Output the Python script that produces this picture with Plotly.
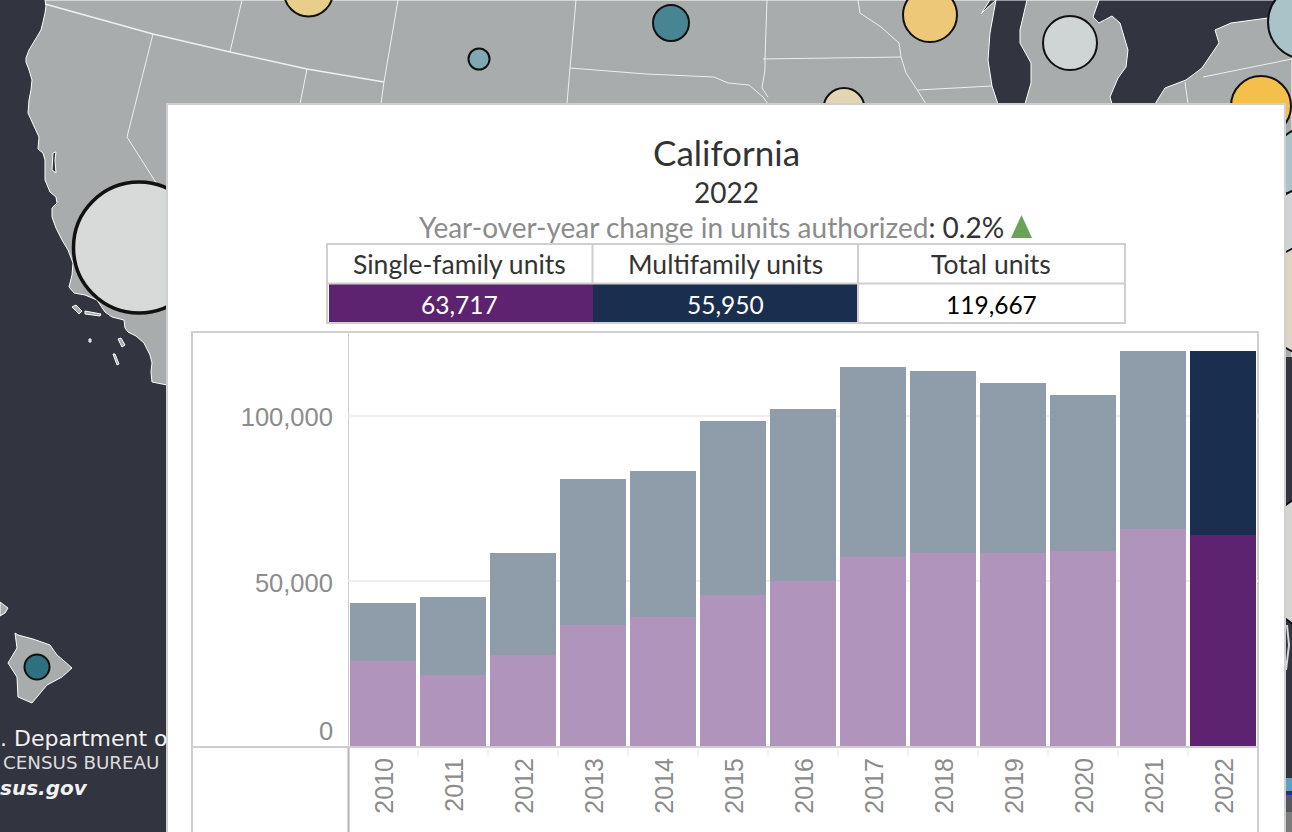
import plotly.graph_objects as go

W, H = 1292, 832

# chart values
years = [2010, 2011, 2012, 2013, 2014, 2015, 2016, 2017, 2018, 2019, 2020, 2021, 2022]
single_family = [25700, 21500, 27600, 36700, 39100, 45800, 50000, 57300, 58500, 58500, 59100, 65800, 63717]
multifamily = [17600, 23700, 30900, 44200, 44200, 52400, 52100, 57500, 55100, 51200, 47000, 53700, 55950]
y_ticks = [0, 50000, 100000]

state = "California"
year_label = "2022"
change_label = "Year-over-year change in units authorized"
change_value = "0.2%"
table_headers = ["Single-family units", "Multifamily units", "Total units"]
table_values = ["63,717", "55,950", "119,667"]
footer_lines = [".\u00a0Department\u00a0of", "CENSUS BUREAU", "sus.gov"]

# colours
DARK = "#323440"
LAND = "#a8acac"
PURPLE = "#5e2370"
NAVY = "#1a2e50"
PURPLE_LIGHT = "#b094bb"
NAVY_LIGHT = "#8f9caa"
TEXT = "#333333"
LINE = "#cfcfcf"
LINE_DARK = "#b4b4b4"
TICK = "#8c8c8c"
FONT = "Lato"
TICK_FONT = "Liberation Sans"


def px(x, y):
    return f"{x / W:.5f} {1 - y / H:.5f}"


def poly(points, closed=True):
    path = "M " + " L ".join(px(x, y) for x, y in points)
    return path + (" Z" if closed else "")


def area(points, fill, line="white", width=1):
    return dict(type="path", path=poly(points), xref="paper", yref="paper", layer="below",
                fillcolor=fill, line=dict(color=line, width=width))


def stroke(points, color="#eef0f0", width=1):
    return dict(type="path", path=poly(points, closed=False), xref="paper", yref="paper", layer="below",
                line=dict(color=color, width=width))


def rect(x0, y0, x1, y1, fill, line=None, width=0):
    return dict(type="rect", xref="paper", yref="paper", layer="below",
                x0=x0 / W, x1=x1 / W, y0=1 - y0 / H, y1=1 - y1 / H,
                fillcolor=fill, line=dict(color=line or fill, width=width))


def circle(cx, cy, r, fill, width=2):
    return dict(type="circle", xref="paper", yref="paper", layer="below",
                x0=(cx - r) / W, x1=(cx + r) / W, y0=1 - (cy - r) / H, y1=1 - (cy + r) / H,
                fillcolor=fill, line=dict(color="#111111", width=width))


def label(text, x, y, size, color=TEXT, font=FONT):
    return dict(text=text, x=x / W, y=1 - y / H, xref="paper", yref="paper", showarrow=False,
                xanchor="center", yanchor="middle", font=dict(family=font, size=size, color=color))


west_coast = [(45, 0), (46, 6), (45, 13), (43, 22), (41, 30), (35, 40), (29, 50), (26, 58), (26, 62), (29, 70),
              (32, 80), (31, 90), (29, 100), (28, 113), (33, 124), (39, 137), (38, 149), (43, 153), (45, 160),
              (45, 180), (50, 192), (56, 197), (57, 203), (52, 208), (52, 217), (56, 228), (62, 240), (68, 250),
              (73, 263), (72, 275), (69, 287), (74, 293), (85, 295), (97, 300), (105, 312), (112, 317), (124, 320),
              (125, 328), (128, 332), (136, 336), (144, 343), (150, 355), (152, 363), (151, 372), (152, 382),
              (167, 385)]
lake_michigan = [(996, 0), (990, 33), (988, 60), (992, 86), (998, 104), (1025, 104), (1031, 83), (1031, 63),
                 (1020, 43), (1020, 30), (1027, 0)]
east_lakes = [(1099, 0), (1093, 17), (1099, 23), (1112, 16), (1120, 23), (1128, 50), (1126, 67), (1118, 78),
              (1110, 97), (1112, 104), (1155, 104), (1165, 88), (1186, 80), (1202, 68), (1219, 43), (1215, 30),
              (1231, 23), (1268, 18), (1275, 0)]
big_island = [(15, 633), (18, 635), (33, 639), (50, 645), (57, 655), (63, 660), (72, 668), (62, 677), (47, 685),
              (32, 703), (18, 697), (17, 677), (8, 663), (17, 648)]

shapes = [
    rect(0, 0, W, H, DARK),
    area(west_coast + [(1292, 385), (1292, 357), (1292, 0)], LAND),
    rect(167, 357, 1292, 420, DARK),
    area(lake_michigan, DARK),
    area([(981, 14), (990, 0), (996, 0), (985, 10)], DARK),
    area(east_lakes, DARK),
    area(big_island, LAND),
    area([(0, 602), (8, 608), (5, 613), (0, 616)], LAND),
    area([(53, 153), (56, 152), (55, 160), (56, 173), (52, 170)], DARK),
    area([(72, 307), (76, 305), (82, 311), (79, 314)], LAND),
    area([(85, 311), (101, 314), (100, 316), (85, 314)], LAND),
    area([(89, 339), (91, 339), (91, 342), (89, 342)], LAND),
    area([(118, 339), (121, 338), (125, 345), (122, 347)], LAND),
    area([(113, 354), (115, 354), (119, 364), (117, 365)], LAND),
    # state lines
    stroke([(45, 4), (153, 34), (230, 52), (307, 69), (384, 82)], width=1.5),
    stroke([(153, 34), (127, 137), (167, 200)]),
    stroke([(230, 52), (242, 0)]),
    stroke([(307, 69), (300, 104)]),
    stroke([(398, 0), (384, 82), (381, 104)]),
    stroke([(576, 0), (570, 68), (567, 104)]),
    stroke([(570, 68), (646, 74), (714, 77), (728, 83), (749, 85), (763, 97), (768, 104)]),
    stroke([(767, 0), (765, 59)]),
    stroke([(763, 59), (901, 57)]),
    stroke([(765, 59), (765, 70), (762, 88), (768, 97)]),
    stroke([(858, 0), (860, 13), (881, 27), (899, 43), (901, 57), (906, 73), (916, 88), (926, 104)]),
    stroke([(918, 90), (992, 86)]),
    stroke([(1185, 82), (1188, 104)]),
    stroke([(1203, 77), (1292, 59)]),
    # bubbles
    circle(308.5, -8, 24.5, "#e9cd8b"),
    circle(479, 59, 10.5, "#7fa8b3"),
    circle(671, 23, 18, "#488593"),
    circle(930, 15, 27, "#ecc878"),
    circle(1070, 43, 27, "#cfd5d5"),
    circle(1305, 22, 37, "#a9c3c8"),
    circle(844, 108.5, 20.5, "#e3d6b2"),
    circle(1261, 106, 30, "#f5bf4d"),
    circle(1310, 164, 37.6, "#a9c3c8"),
    circle(1305, 223, 34.6, "#cfd3d5"),
    circle(1315, 300, 56, "#ddd4c4"),
    circle(1330, 562, 72, "#d4d4d0"),
    circle(139, 247.5, 65.5, "#d8dada", width=3.5),
    circle(37, 667, 12.5, "#2f707e"),
    # scraps showing at the right edge
    stroke([(1287, 625), (1289, 645), (1286, 670)], color="#d8d8d8", width=2),
    rect(1285, 778, 1292, 791, "#5f9fc4"),
    rect(1285, 793, 1292, 795, "#2424d0"),
    rect(1285, 795, 1292, 812, "#55565f"),
    rect(1285, 812, 1292, 832, "#7c7c7c"),
    # popup panel
    rect(167, 104, 1285, 840, "white", line=LINE, width=2),
    # table
    rect(329, 284, 593, 322, PURPLE),
    rect(593, 284, 858, 322, NAVY),
    rect(327, 244, 1125, 323, "rgba(0,0,0,0)", line=LINE, width=2),
    stroke([(327, 283.5), (1125, 283.5)], color=LINE, width=2),
    stroke([(592.5, 244), (592.5, 284)], color=LINE, width=2),
    stroke([(858, 244), (858, 323)], color=LINE, width=2),
    # green arrow
    area([(1021.5, 215), (1032, 238), (1011, 238)], "#6aa25a", line="#6aa25a", width=0),
    # chart frame
    stroke([(192, 840), (192, 332), (1258, 332), (1258, 840)], color=LINE, width=2),
    stroke([(348.5, 332), (348.5, 746)], color=LINE, width=1),
    stroke([(348.5, 747), (348.5, 840)], color=LINE_DARK, width=2),
    stroke([(192, 747), (1258, 747)], color=LINE, width=2),
]

# small separators under the bars, between the years
for yr in years[:-1]:
    shapes.append(dict(type="line", xref="x", yref="paper", x0=yr + 0.5, x1=yr + 0.5,
                       y0=1 - 748 / H, y1=1 - 757 / H, layer="below",
                       line=dict(color="#eeeeee", width=1.5)))

annotations = [
    label(state, 726, 152, 35),
    label(year_label, 726, 192, 28),
    label(f'<span style="color:#8c8c8c">{change_label}</span>: {change_value}', 711.5, 227, 28),
    label(table_headers[0], 459, 264, 26.5),
    label(table_headers[1], 725, 264, 26.5),
    label(table_headers[2], 991, 264, 26.5),
    label(table_values[0], 459, 304, 24.5, color="white"),
    label(table_values[1], 725, 304, 24.5, color="white"),
    label(table_values[2], 991, 304, 24.5, color="black"),
    # the zero sits above the baseline in the original
    dict(text=f"{y_ticks[0]}", x=335 / W, y=y_ticks[0], xref="paper", yref="y", yshift=15, showarrow=False,
         xanchor="right", yanchor="middle", font=dict(family=TICK_FONT, size=25.5, color=TICK)),
]

fig = go.Figure()

fig.add_trace(go.Bar(x=years, y=single_family, name="Single-family units", showlegend=False,
                     marker=dict(color=[PURPLE_LIGHT] * 12 + [PURPLE], line=dict(width=0))))
fig.add_trace(go.Bar(x=years, y=multifamily, name="Multifamily units", showlegend=False,
                     marker=dict(color=[NAVY_LIGHT] * 12 + [NAVY], line=dict(width=0))))

# footer logo text, on its own axes so that the panel edge cuts it off
fig.add_trace(go.Scatter(x=[0], y=[740], xaxis="x2", yaxis="y2", mode="text", text=[footer_lines[0]],
                         textposition="middle right", showlegend=False, hoverinfo="skip",
                         textfont=dict(family="DejaVu Sans", size=22, color="#f2f2f2")))
fig.add_trace(go.Scatter(x=[3], y=[764], xaxis="x2", yaxis="y2", mode="text", text=[footer_lines[1]],
                         textposition="middle right", showlegend=False, hoverinfo="skip",
                         textfont=dict(family="DejaVu Sans", size=18.3, color="#dddddd")))
fig.add_trace(go.Scatter(x=[0], y=[790], xaxis="x2", yaxis="y2", mode="text", text=[f"<b><i>{footer_lines[2]}</i></b>"],
                         textposition="middle right", showlegend=False, hoverinfo="skip",
                         textfont=dict(family="DejaVu Sans", size=20, color="#f2f2f2")))

fig.update_layout(
    width=W,
    height=H,
    margin=dict(l=0, r=0, t=0, b=0),
    paper_bgcolor=DARK,
    plot_bgcolor="rgba(0,0,0,0)",
    barmode="stack",
    bargap=4 / 70,
    showlegend=False,
    shapes=shapes,
    annotations=annotations,
    xaxis=dict(
        domain=[348 / W, 1258 / W],
        range=[2009.5, 2022.5],
        tickmode="array",
        tickvals=years,
        tickangle=-90,
        ticks="outside",
        ticklen=1,
        tickcolor="rgba(0,0,0,0)",
        ticklabelshift=2,
        tickfont=dict(family=TICK_FONT, size=25, color=TICK),
        showgrid=False,
        zeroline=False,
        showline=False,
    ),
    yaxis=dict(
        domain=[1 - 746 / H, 1 - 332 / H],
        range=[0, 414 / 3.305 * 1000],
        tickmode="array",
        tickvals=y_ticks,
        ticktext=["" if v == 0 else f"{v:,}" for v in y_ticks],
        ticks="outside",
        ticklen=9,
        tickcolor="rgba(0,0,0,0)",
        ticklabelshift=2,
        tickfont=dict(family=TICK_FONT, size=25.5, color=TICK),
        gridcolor="#eeeeee",
        gridwidth=2,
        zeroline=False,
        showline=False,
    ),
    xaxis2=dict(domain=[0, 167 / W], range=[0, 167], visible=False, anchor="y2"),
    yaxis2=dict(domain=[0, 1], range=[H, 0], visible=False, anchor="x2"),
)

fig.write_html("out.html", config=dict(displayModeBar=False),
               post_script="document.body.style.margin='0';document.body.style.overflow='hidden';")
